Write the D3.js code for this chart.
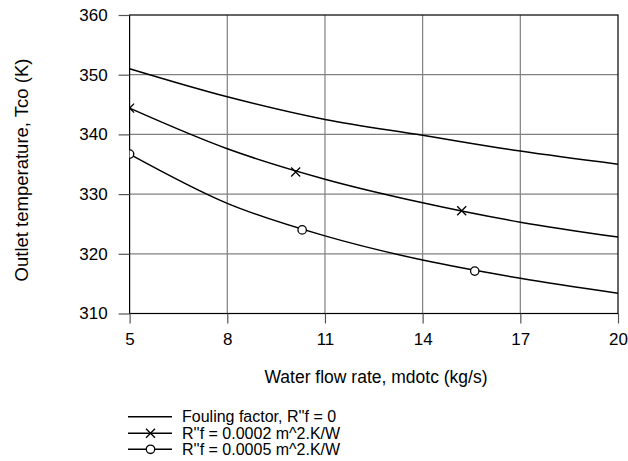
<!DOCTYPE html>
<html lang="en">
	<head>
		<meta charset="utf-8">
		<title>Outlet temperature chart</title>
		<script type="text/javascript" src="https://cdn.jsdelivr.net/npm/d3@7"></script>
		<style type="text/css">
			body { margin: 0; background: #fff; }
			text { font-family: "Liberation Sans", Arial, sans-serif; fill: #000; }
		</style>
	</head>
	<body>
		<div id="chart"></div>
		<script type="text/javascript">

		// values
		var flowRates = [5, 8, 11, 14, 17, 20];
		var noFouling = [351.0, 346.3, 342.5, 339.85, 337.2, 335.0];
		var fouling2 = [344.4, 337.6, 332.5, 328.55, 325.3, 322.8];
		var fouling5 = [336.7, 328.45, 323.0, 318.95, 315.9, 313.4];
		// marker positions along each curve
		var marks2 = [[5, 344.4], [10.1, 333.7], [15.2, 327.2]];
		var marks5 = [[5, 336.7], [10.3, 324.0], [15.6, 317.1]];
		var xTicks = [5, 8, 11, 14, 17, 20];
		var yTicks = [310, 320, 330, 340, 350, 360];
		var legendLabels = ["Fouling factor, R''f = 0", "R''f = 0.0002 m^2.K/W", "R''f = 0.0005 m^2.K/W"];

		var w = 628;
		var h = 461;
		var pLeft = 129.6, pRight = 618, pTop = 15, pBottom = 313.5;

		var svg = d3.select("#chart")
					.append("svg")
					.attr("width", w)
					.attr("height", h);

		var x = d3.scaleLinear().domain([5, 20]).range([pLeft, pRight]);
		var y = d3.scaleLinear().domain([310, 360]).range([pBottom, pTop]);

		// clip so markers at the edge get cut like the original
		svg.append("clipPath").attr("id", "plotClip")
			.append("rect")
			.attr("x", pLeft).attr("y", pTop)
			.attr("width", pRight - pLeft).attr("height", pBottom - pTop);

		// grid
		var grid = svg.append("g");
		grid.selectAll(".vg").data(xTicks.slice(1, -1)).enter()
			.append("line")
			.attr("x1", function(d) { return x(d); })
			.attr("x2", function(d) { return x(d); })
			.attr("y1", pTop).attr("y2", pBottom)
			.attr("stroke", "#808080").attr("stroke-width", 1.2);
		grid.selectAll(".hg").data(yTicks.slice(1, -1)).enter()
			.append("line")
			.attr("x1", pLeft).attr("x2", pRight)
			.attr("y1", function(d) { return y(d); })
			.attr("y2", function(d) { return y(d); })
			.attr("stroke", "#808080").attr("stroke-width", 1.2);

		// frame
		svg.append("rect")
			.attr("x", pLeft).attr("y", pTop)
			.attr("width", pRight - pLeft).attr("height", pBottom - pTop)
			.attr("fill", "none").attr("stroke", "#000").attr("stroke-width", 1.2);

		// axes
		var xAxis = d3.axisBottom(x).tickValues(xTicks).tickSize(10).tickPadding(9);
		var yAxis = d3.axisLeft(y).tickValues(yTicks).tickSize(11).tickPadding(11);

		var gx = svg.append("g").attr("transform", "translate(0," + pBottom + ")").call(xAxis);
		var gy = svg.append("g").attr("transform", "translate(" + pLeft + ",0)").call(yAxis);
		[gx, gy].forEach(function(g) {
			g.select(".domain").remove();
			g.selectAll(".tick line").attr("stroke", "#555").attr("stroke-width", 1.2);
			g.selectAll(".tick text").attr("font-size", 17).attr("font-family", "Liberation Sans, Arial, sans-serif");
		});

		// axis titles
		svg.append("text")
			.attr("x", 376)
			.attr("y", 383)
			.attr("text-anchor", "middle")
			.attr("font-size", 17.5)
			.text("Water flow rate, mdotc (kg/s)");

		svg.append("text")
			.attr("transform", "translate(28,170) rotate(-90)")
			.attr("text-anchor", "middle")
			.attr("font-size", 18.5)
			.text("Outlet temperature, Tco (K)");

		// curves
		var line = d3.line()
			.x(function(d) { return x(d[0]); })
			.y(function(d) { return y(d[1]); })
			.curve(d3.curveMonotoneX);

		var series = [noFouling, fouling2, fouling5];
		var plot = svg.append("g").attr("clip-path", "url(#plotClip)");
		series.forEach(function(vals) {
			plot.append("path")
				.datum(d3.zip(flowRates, vals))
				.attr("d", line)
				.attr("fill", "none")
				.attr("stroke", "#000")
				.attr("stroke-width", 1.5);
		});

		function drawCross(g, cx, cy) {
			g.append("path")
				.attr("d", "M" + (cx - 4.5) + "," + (cy - 4.5) + "L" + (cx + 4.5) + "," + (cy + 4.5) +
					"M" + (cx - 4.5) + "," + (cy + 4.5) + "L" + (cx + 4.5) + "," + (cy - 4.5))
				.attr("stroke", "#000").attr("stroke-width", 1.3).attr("fill", "none");
		}
		function drawCircle(g, cx, cy) {
			g.append("circle")
				.attr("cx", cx).attr("cy", cy).attr("r", 4.2)
				.attr("fill", "#fff").attr("stroke", "#000").attr("stroke-width", 1.3);
		}

		marks2.forEach(function(m) { drawCross(plot, x(m[0]), y(m[1])); });
		marks5.forEach(function(m) { drawCircle(plot, x(m[0]), y(m[1])); });

		// legend
		var legendY = [416.7, 433.3, 449.3];
		var lg = svg.append("g");
		legendLabels.forEach(function(label, i) {
			lg.append("line")
				.attr("x1", 128).attr("x2", 172)
				.attr("y1", legendY[i]).attr("y2", legendY[i])
				.attr("stroke", "#000").attr("stroke-width", 1.5);
			if (i == 1) drawCross(lg, 150.5, legendY[i]);
			if (i == 2) drawCircle(lg, 150.5, legendY[i]);
			lg.append("text")
				.attr("x", 182)
				.attr("y", legendY[i])
				.attr("dy", "0.35em")
				.attr("font-size", 16)
				.text(label);
		});

		</script>
	</body>
</html>
